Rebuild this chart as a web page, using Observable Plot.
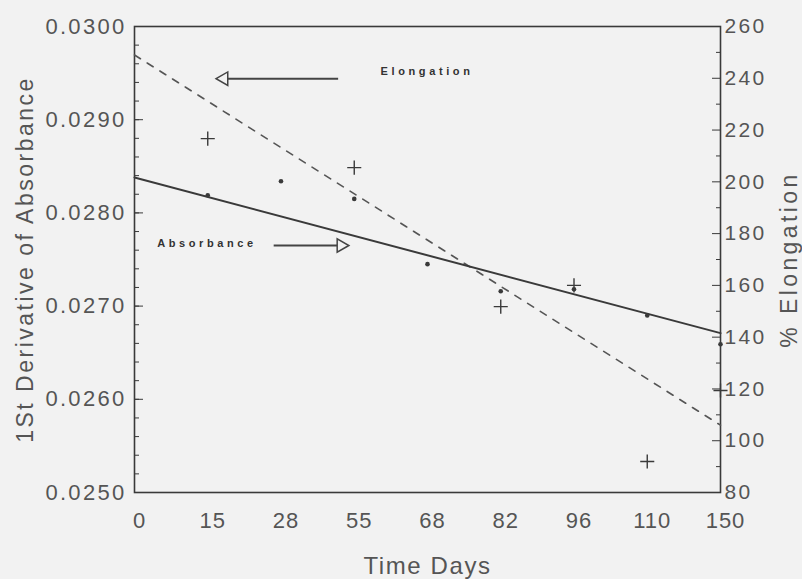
<!DOCTYPE html>
<html><head><meta charset="utf-8">
<script src="https://cdn.jsdelivr.net/npm/d3@7"></script>
<script src="https://cdn.jsdelivr.net/npm/@observablehq/plot@0.6"></script>
<style>
html,body{margin:0;padding:0;background:#f2f2f2;}
#chart svg{display:block;}
</style></head><body><div id="chart"></div>
<script>
// Categories on the x axis (evenly spaced, labelled by day)
const dayLabels = ["0", "15", "28", "55", "68", "82", "96", "110", "150"];
const dayIndex = [0, 1, 2, 3, 4, 5, 6, 7, 8];

// 1st derivative of absorbance (dots, left axis)
const absIdx = [1, 2, 3, 4, 5, 6, 7, 8];
const absVal = [0.02819, 0.02834, 0.02815, 0.02745, 0.02716, 0.02718, 0.02690, 0.02659];

// % elongation (crosses, right axis)
const elongIdx = [1, 3, 5, 6, 7, 8];
const elongVal = [216.7, 205.5, 151.8, 160.0, 92.0, 119.4];

// Fitted trend lines
const absFitIdx = [0, 8];
const absFitVal = [0.02838, 0.02671];
const elongFitIdx = [0, 8];
const elongFitVal = [249, 106];

// Axis ticks
const leftTicks = [0.025, 0.026, 0.027, 0.028, 0.029, 0.030];
const leftMinor = d3.range(0.0250, 0.03001, 0.0002);
const rightTicks = [80, 100, 120, 140, 160, 180, 200, 220, 240, 260];
const rightMinor = [90, 110, 130, 150, 170, 190, 210, 230, 250];

// In-chart annotations
const noteText = ["Elongation", "Absorbance"];
const noteX = [3.36, 0.31];
const noteY = [0.02952, 0.02767];
const arrowTail = [2.78, 1.90];
const arrowTip = [1.22, 2.82];
const arrowY = [0.02944, 0.02765];
const arrowDir = [-90, 90];

// map % elongation onto the absorbance scale (80..260 <-> 0.025..0.030)
const toAbs = e => 0.025 + (e - 80) / 180 * 0.005;
const toElong = a => 80 + (a - 0.025) / 0.005 * 180;

const absPts = absIdx.map((x, i) => ({x, y: absVal[i]}));
const elongPts = elongIdx.map((x, i) => ({x, y: toAbs(elongVal[i])}));
const absFit = absFitIdx.map((x, i) => ({x, y: absFitVal[i]}));
const elongFit = elongFitIdx.map((x, i) => ({x, y: toAbs(elongFitVal[i])}));
const notes = noteText.map((t, i) => ({t, x: noteX[i], y: noteY[i]}));
const arrows = noteText.map((t, i) => ({x1: arrowTail[i], x2: arrowTip[i], y: arrowY[i], rot: arrowDir[i]}));

const ink = "#3a3a3a";
const txt = "#555";

const chart = Plot.plot({
  width: 802,
  height: 579,
  marginLeft: 134,
  marginRight: 82,
  marginTop: 26,
  marginBottom: 87,
  x: {domain: [0, 8], axis: null},
  y: {domain: [0.025, 0.030], axis: null},
  style: {background: "#f2f2f2", fontFamily: "Liberation Sans, Arial, sans-serif", color: txt},
  marks: [
    Plot.frame({stroke: ink, strokeWidth: 1.6}),
    // left axis
    Plot.axisY(leftMinor, {anchor: "left", tickSize: -5, tickFormat: () => "", label: null, stroke: ink}),
    Plot.axisY(leftTicks, {anchor: "left", tickSize: -9, tickPadding: 17, tickFormat: d3.format(".4f"),
      fontSize: 22, fill: txt, stroke: ink,
      label: "1St Derivative of Absorbance", labelAnchor: "center", labelOffset: 118, labelArrow: false}),
    // right axis
    Plot.axisY(rightMinor.map(toAbs), {anchor: "right", tickSize: -5, tickFormat: () => "", label: null, stroke: ink}),
    Plot.axisY(rightTicks.map(toAbs), {anchor: "right", tickSize: -9, tickPadding: 13, tickFormat: a => Math.round(toElong(a)),
      fontSize: 21, fill: txt, stroke: ink,
      label: "% Elongation", labelAnchor: "center", labelOffset: 76, labelArrow: false}),
    // x axis
    Plot.axisX(dayIndex, {anchor: "bottom", tickSize: 0, tickPadding: 20, tickFormat: i => dayLabels[i],
      fontSize: 22, fill: txt, dx: 5,
      label: "Time Days", labelAnchor: "center", labelOffset: 81, labelArrow: false}),
    // trend lines
    Plot.line(elongFit, {x: "x", y: "y", stroke: "#555", strokeWidth: 1.6, strokeDasharray: "7,8"}),
    Plot.line(absFit, {x: "x", y: "y", stroke: ink, strokeWidth: 2}),
    // data
    Plot.dot(absPts, {x: "x", y: "y", r: 2.3, fill: ink}),
    Plot.dot(elongPts, {x: "x", y: "y", symbol: "plus", r: 4.6, stroke: ink, strokeWidth: 1.4}),
    // annotations
    Plot.text(notes, {x: "x", y: "y", text: "t", textAnchor: "start", fontSize: 11, fontWeight: "bold", fill: "#333"}),
    Plot.link(arrows, {x1: "x1", x2: "x2", y1: "y", y2: "y", stroke: "#444", strokeWidth: 2}),
    Plot.dot(arrows, {x: "x2", y: "y", symbol: "triangle", rotate: "rot", r: 5, stroke: "#444", fill: "#f2f2f2", strokeWidth: 1.5})
  ]
});
document.getElementById("chart").appendChild(chart);

// letter spacing / sizes to match the wide lettering of the original
const svg = d3.select(chart);
const spacing = {
  "y-axis tick label": "2.3px",
  "x-axis tick label": "1px",
  "x-axis label": "1.6px"
};
svg.selectAll("g[aria-label]").each(function() {
  const s = spacing[this.getAttribute("aria-label")];
  if (s) d3.select(this).selectAll("text").style("letter-spacing", s);
});
svg.selectAll('g[aria-label="x-axis label"] text').style("font-size", "24px");
svg.selectAll('g[aria-label="y-axis label"] text').each(function() {
  const t = this.textContent;
  if (t.startsWith("1St")) d3.select(this).style("font-size", "23px").style("letter-spacing", "2.5px");
  else d3.select(this).style("font-size", "23px").style("letter-spacing", "3.4px");
});
svg.selectAll("text").filter(function() { return noteText.includes(this.textContent); })
  .style("letter-spacing", "3.6px");
</script></body></html>
